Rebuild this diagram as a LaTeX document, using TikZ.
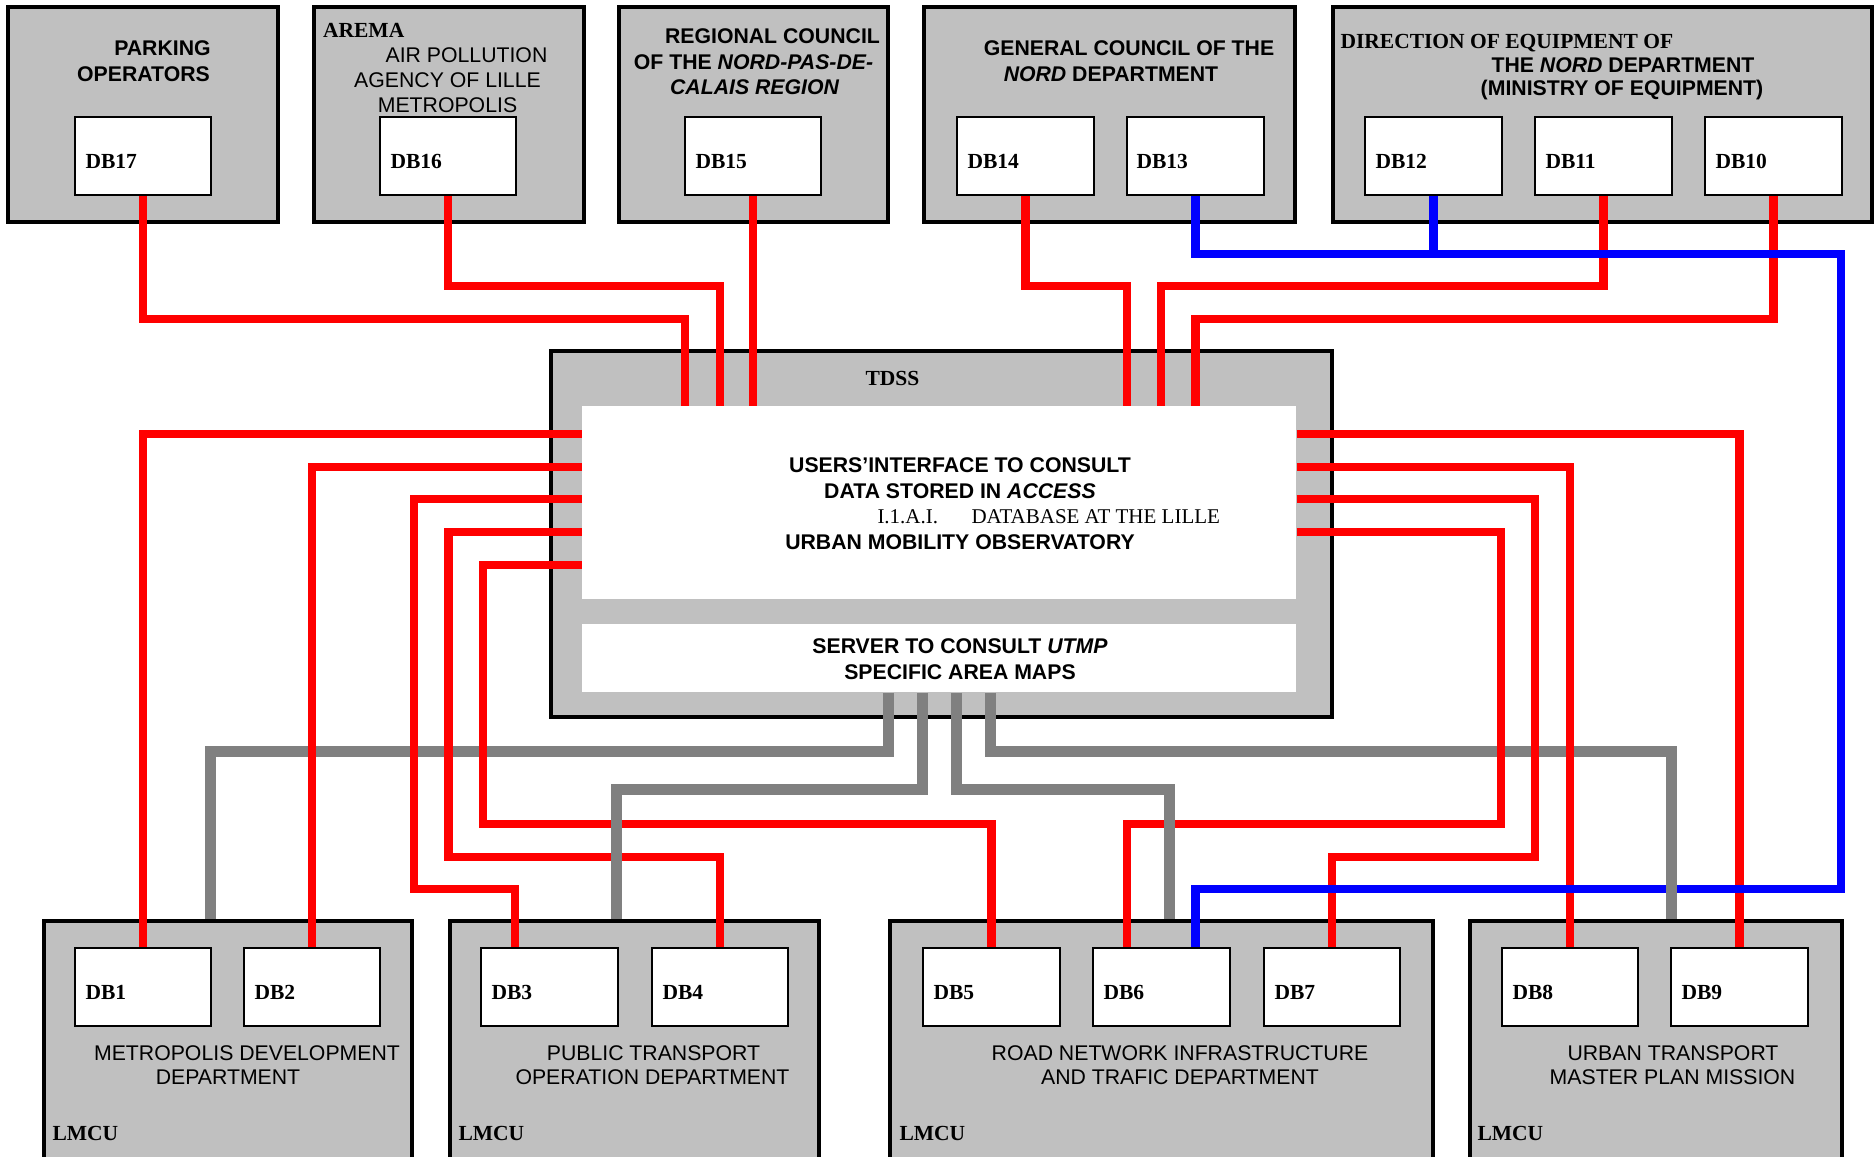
\documentclass[tikz,border=0pt]{standalone}
\usepackage{fontspec}
\setmainfont{Liberation Serif}
\setsansfont{Liberation Sans}
\usetikzlibrary{fit}
\definecolor{panel}{RGB}{192,192,192}
\definecolor{trunk}{RGB}{128,128,128}
\definecolor{linkred}{RGB}{255,0,0}
\definecolor{linkblue}{RGB}{0,0,255}

\begin{document}
\begin{tikzpicture}[x=0.4pt,y=-0.4pt,
  orgbox/.style={draw=black, line width=1.6pt, fill=panel, inner sep=0pt},
  dbbox/.style={draw=black, line width=1pt, fill=white, inner sep=0pt},
  pane/.style={fill=white, inner sep=0pt},
  dblabel/.style={font=\fontsize{8.6}{10}\selectfont\rmfamily\bfseries, anchor=base west, inner sep=0pt},
  headsf/.style={font=\fontsize{8.5}{10}\selectfont\sffamily\bfseries, anchor=base, inner sep=0pt},
  plainsf/.style={font=\fontsize{8.5}{10}\selectfont\sffamily, anchor=base, inner sep=0pt},
  headrm/.style={font=\fontsize{8.6}{10}\selectfont\rmfamily\bfseries, anchor=base west, inner sep=0pt},
  plainrm/.style={font=\fontsize{8.4}{10}\selectfont\rmfamily, anchor=base west, inner sep=0pt},
  redlink/.style={draw=linkred, line width=3.3pt, line join=miter},
  bluelink/.style={draw=linkblue, line width=3.4pt, line join=miter},
  greylink/.style={draw=trunk, line width=4.4pt, line join=miter},
]
\useasboundingbox (0,0) rectangle (1876,1156);
\clip (0,0) rectangle (1876,1156);

% ---- providers (top row) ----
\node[orgbox, fit={(8,7)(278,222)}] (parking) {};
\node[orgbox, fit={(314,7)(584,222)}] (arema) {};
\node[orgbox, fit={(619,7)(888,222)}] (region) {};
\node[orgbox, fit={(924,7)(1295,222)}] (general) {};
\node[orgbox, fit={(1333,7)(1872,222)}] (equip) {};

\node[dbbox, fit={(75,117)(211,195)}] (db17) {};
\node[dbbox, fit={(380,117)(516,195)}] (db16) {};
\node[dbbox, fit={(685,117)(821,195)}] (db15) {};
\node[dbbox, fit={(957,117)(1094,195)}] (db14) {};
\node[dbbox, fit={(1127,117)(1264,195)}] (db13) {};
\node[dbbox, fit={(1365,117)(1502,195)}] (db12) {};
\node[dbbox, fit={(1535,117)(1672,195)}] (db11) {};
\node[dbbox, fit={(1705,117)(1842,195)}] (db10) {};

% ---- decision support system ----
\node[orgbox, fit={(551,351)(1332,717)}] (tdss) {};
\node[pane, fit={(582,406)(1296,599)}] (iface) {};
\node[pane, fit={(582,624)(1296,692)}] (maps) {};

% ---- LMCU departments (bottom row) ----
\node[orgbox, fit={(44,921)(412,1200)}] (metro) {};
\node[orgbox, fit={(450,921)(819,1200)}] (transit) {};
\node[orgbox, fit={(890,921)(1433,1200)}] (road) {};
\node[orgbox, fit={(1470,921)(1842,1200)}] (plan) {};

\node[dbbox, fit={(75,948)(211,1026)}] (db1) {};
\node[dbbox, fit={(244,948)(380,1026)}] (db2) {};
\node[dbbox, fit={(481,948)(618,1026)}] (db3) {};
\node[dbbox, fit={(652,948)(788,1026)}] (db4) {};
\node[dbbox, fit={(923,948)(1060,1026)}] (db5) {};
\node[dbbox, fit={(1093,948)(1230,1026)}] (db6) {};
\node[dbbox, fit={(1264,948)(1400,1026)}] (db7) {};
\node[dbbox, fit={(1502,948)(1638,1026)}] (db8) {};
\node[dbbox, fit={(1671,948)(1808,1026)}] (db9) {};

% ---- grey links: map server to the departments (runs to the bends) ----
\coordinate (g1) at (210,751.7);
\coordinate (g2) at (616.6,789);
\coordinate (g3) at (1169,789);
\coordinate (g4) at (1671,751.7);
\draw[greylink] (888.6,0 |- maps.south) |- (g1);
\draw[greylink] (922.6,0 |- maps.south) |- (g2);
\draw[greylink] (956.7,0 |- maps.south) |- (g3);
\draw[greylink] (990.7,0 |- maps.south) |- (g4);

% ---- red links: databases to the user interface ----
\draw[redlink] (db17.south) |- (685,319) -- (685,0 |- iface.north);
\draw[redlink] (db16.south) |- (720,286) -- (720,0 |- iface.north);
\draw[redlink] (db15.south) -- (db15.south |- iface.north);
\draw[redlink] (db14.south) |- (1127,286) -- (1127,0 |- iface.north);
\draw[redlink] (db11.south) |- (1161,286) -- (1161,0 |- iface.north);
\draw[redlink] (db10.south) |- (1195.5,319) -- (1195.5,0 |- iface.north);

\draw[redlink] (iface.west |- 0,434) -| (db1.north);
\draw[redlink] (iface.west |- 0,467) -| (db2.north);
\draw[redlink] (iface.west |- 0,499) -| (414,889) -| (515,0 |- db3.north);
\draw[redlink] (iface.west |- 0,532) -| (448.6,856.7) -| (db4.north);
\draw[redlink] (iface.west |- 0,565) -| (482.7,824) -| (db5.north);

\draw[redlink] (iface.east |- 0,434) -| (db9.north);
\draw[redlink] (iface.east |- 0,467) -| (db8.north);
\draw[redlink] (iface.east |- 0,499) -| (1535,857) -| (db7.north);
\draw[redlink] (iface.east |- 0,532) -| (1501,824) -| (1127,0 |- db6.north);

% ---- blue link: DB13 / DB12 to DB6 ----
\draw[bluelink] (db13.south) |- (1841,254) |- (1195.5,889) -- (1195.5,0 |- db6.north);
\draw[bluelink] (db12.south) -- (db12.south |- 0,254);

% ---- grey drops into the departments, over the crossing links ----
\draw[greylink] ([xshift=4pt]g1) -| (g1 |- metro.north);
\draw[greylink] ([xshift=4pt]g2) -| (g2 |- transit.north);
\draw[greylink] ([xshift=-4pt]g3) -| (g3 |- road.north);
\draw[greylink] ([xshift=-4pt]g4) -| (g4 |- plan.north);

% ---- provider titles ----
\node[headsf] (park1) at (162.5,55) {PARKING};
\node[headsf] (park2) at (143.5,81) {OPERATORS};
\node[headrm] (arema1) at (322.6,37) {AREMA};
\node[plainsf] (arema2) at (466.5,62) {AIR POLLUTION};
\node[plainsf] (arema3) at (447.5,87) {AGENCY OF LILLE};
\node[plainsf] (arema4) at (447.5,112) {METROPOLIS};
\node[headsf] (reg1) at (772.5,43) {REGIONAL COUNCIL};
\node[headsf] (reg2) at (753.5,69) {OF THE \textit{NORD-PAS-DE-}};
\node[headsf] (reg3) at (754.7,94) {\textit{CALAIS REGION}};
\node[headsf] (gen1) at (1129,55) {GENERAL COUNCIL OF THE};
\node[headsf] (gen2) at (1111,81) {\textit{NORD} DEPARTMENT};
\node[headrm] (eq1) at (1340,48) {DIRECTION OF EQUIPMENT OF};
\node[headsf] (eq2) at (1623,72) {THE \textit{NORD} DEPARTMENT};
\node[headsf] (eq3) at (1622,95) {(MINISTRY OF EQUIPMENT)};

\node[dblabel] (l17) at (85,168) {DB17};
\node[dblabel] (l16) at (390,168) {DB16};
\node[dblabel] (l15) at (695,168) {DB15};
\node[dblabel] (l14) at (967,168) {DB14};
\node[dblabel] (l13) at (1136,168) {DB13};
\node[dblabel] (l12) at (1375,168) {DB12};
\node[dblabel] (l11) at (1545,168) {DB11};
\node[dblabel] (l10) at (1715,168) {DB10};

% ---- TDSS texts ----
\node[headrm] (tdsslabel) at (865,385) {TDSS};
\node[headsf] (if1) at (960,472) {USERS’INTERFACE TO CONSULT};
\node[headsf] (if2) at (960,498) {DATA STORED IN \textit{ACCESS}};
\node[plainrm] (if3) at (877,523) {I.1.A.I.};
\node[plainrm] (if4) at (971,523) {DATABASE AT THE LILLE};
\node[headsf] (if5) at (960,549) {URBAN MOBILITY OBSERVATORY};
\node[headsf] (map1) at (960,653) {SERVER TO CONSULT \textit{UTMP}};
\node[headsf] (map2) at (960,679) {SPECIFIC AREA MAPS};

% ---- department titles ----
\node[dblabel] (l1) at (85,999) {DB1};
\node[dblabel] (l2) at (254,999) {DB2};
\node[dblabel] (l3) at (491,999) {DB3};
\node[dblabel] (l4) at (662,999) {DB4};
\node[dblabel] (l5) at (933,999) {DB5};
\node[dblabel] (l6) at (1103,999) {DB6};
\node[dblabel] (l7) at (1274,999) {DB7};
\node[dblabel] (l8) at (1512,999) {DB8};
\node[dblabel] (l9) at (1681,999) {DB9};

\node[plainsf] (metro1) at (247,1060) {METROPOLIS DEVELOPMENT};
\node[plainsf] (metro2) at (228,1084) {DEPARTMENT};
\node[plainsf] (transit1) at (653.5,1060) {PUBLIC TRANSPORT};
\node[plainsf] (transit2) at (652.5,1084) {OPERATION DEPARTMENT};
\node[plainsf] (road1) at (1180,1060) {ROAD NETWORK INFRASTRUCTURE};
\node[plainsf] (road2) at (1180,1084) {AND TRAFIC DEPARTMENT};
\node[plainsf] (plan1) at (1673,1060) {URBAN TRANSPORT};
\node[plainsf] (plan2) at (1672.5,1084) {MASTER PLAN MISSION};

\node[headrm] (lm1) at (52,1140) {LMCU};
\node[headrm] (lm2) at (458,1140) {LMCU};
\node[headrm] (lm3) at (899,1140) {LMCU};
\node[headrm] (lm4) at (1477,1140) {LMCU};
\end{tikzpicture}
\end{document}
